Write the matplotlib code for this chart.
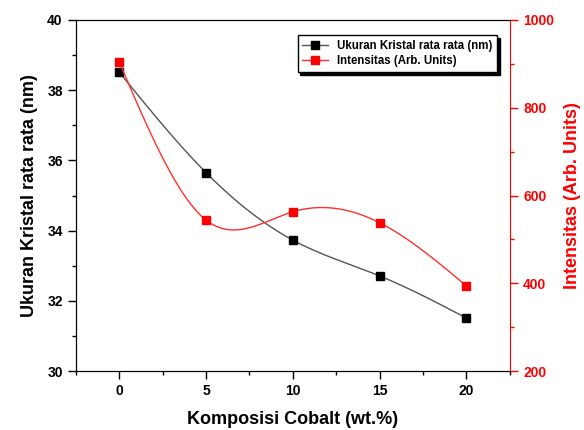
import numpy as np
import matplotlib
matplotlib.use("Agg")
import matplotlib.pyplot as plt
from matplotlib.ticker import MultipleLocator

plt.rcParams['font.family'] = ['Liberation Sans', 'DejaVu Sans']
plt.rcParams['font.weight'] = 'bold'

cobalt = [0, 5, 10, 15, 20]
ukuran = [38.51, 35.65, 33.73, 32.71, 31.51]
intensitas = [904, 544, 563, 538, 394]


def natural_spline(x, y, n=300):
    x = np.asarray(x, float)
    y = np.asarray(y, float)
    k = len(x)
    h = np.diff(x)
    A = np.zeros((k, k))
    b = np.zeros(k)
    A[0, 0] = 1
    A[-1, -1] = 1
    for i in range(1, k - 1):
        A[i, i - 1] = h[i - 1]
        A[i, i] = 2 * (h[i - 1] + h[i])
        A[i, i + 1] = h[i]
        b[i] = 6 * ((y[i + 1] - y[i]) / h[i] - (y[i] - y[i - 1]) / h[i - 1])
    M = np.linalg.solve(A, b)
    xs = np.linspace(x[0], x[-1], n)
    ys = np.empty_like(xs)
    for j, t in enumerate(xs):
        i = min(np.searchsorted(x, t, side='right') - 1, k - 2)
        a = x[i + 1] - t
        c = t - x[i]
        ys[j] = (M[i] * a ** 3 + M[i + 1] * c ** 3) / (6 * h[i]) \
            + (y[i] / h[i] - M[i] * h[i] / 6) * a \
            + (y[i + 1] / h[i] - M[i + 1] * h[i] / 6) * c
    return xs, ys


fig = plt.figure(figsize=(5.84, 4.30), dpi=100)
ax = fig.add_axes([0.130, 0.137, 0.743, 0.8165])
ax2 = ax.twinx()

xs, ys = natural_spline(cobalt, ukuran)
ax.plot(xs, ys, color='#555555', lw=1.0)
ax.plot(cobalt, ukuran, 's', color='black', ms=6, mec='black')

xs2, ys2 = natural_spline(cobalt, intensitas)
ax2.plot(xs2, ys2, color='#ff3030', lw=1.0)
ax2.plot(cobalt, intensitas, 's', color='red', ms=6, mec='red')

ax.set_xlim(-2.5, 22.5)
ax.set_ylim(30, 40)
ax2.set_ylim(200, 1000)

ax.xaxis.set_major_locator(MultipleLocator(5))
ax.xaxis.set_minor_locator(MultipleLocator(2.5))
ax.yaxis.set_major_locator(MultipleLocator(2))
ax.yaxis.set_minor_locator(MultipleLocator(1))
ax2.yaxis.set_major_locator(MultipleLocator(200))
ax2.yaxis.set_minor_locator(MultipleLocator(100))

ax.tick_params(axis='x', which='major', direction='out', length=6, width=1, labelsize=10,
               top=False)
ax.tick_params(axis='x', which='minor', direction='out', length=3, width=1, top=False)
# top ticks pointing inward
ax2.tick_params(axis='x', which='major', direction='in', length=6, width=1,
                top=True, bottom=False, labeltop=False, labelbottom=False)
ax2.tick_params(axis='x', which='minor', direction='in', length=6, width=1,
                top=True, bottom=False)
ax.tick_params(axis='y', which='major', direction='out', length=6, width=1, labelsize=10)
ax.tick_params(axis='y', which='minor', direction='out', length=3, width=1)
ax2.tick_params(axis='y', which='major', direction='out', length=6, width=1, labelsize=10,
                colors='red')
ax2.tick_params(axis='y', which='minor', direction='out', length=3, width=1, colors='red')

for lab in ax.get_xticklabels() + ax.get_yticklabels():
    lab.set_fontweight('bold')
for lab in ax2.get_yticklabels():
    lab.set_fontweight('bold')

ax2.spines['right'].set_color('red')
ax.spines['right'].set_visible(False)

ax.set_xlabel('Komposisi Cobalt (wt.%)', fontsize=13, fontweight='bold', labelpad=9)
ax.set_ylabel('Ukuran Kristal rata rata (nm)', fontsize=13, fontweight='bold', labelpad=7)
ax2.set_ylabel('Intensitas (Arb. Units)', fontsize=13, fontweight='bold', color='red', labelpad=7)

h1, = ax.plot([], [], 's-', color='#555555', mfc='black', mec='black', ms=6, lw=1.0)
h2, = ax.plot([], [], 's-', color='#ff3030', mfc='red', mec='red', ms=6, lw=1.0)
leg = ax.legend([h1, h2], ['Ukuran Kristal rata rata (nm)', 'Intensitas (Arb. Units)'],
                loc='upper right', bbox_to_anchor=(0.970, 0.957),
                prop={'weight': 'bold', 'size': 8.3}, frameon=True, fancybox=False,
                shadow={'color': 'black', 'alpha': 1}, borderpad=0.4, handlelength=2.2,
                labelspacing=0.3, borderaxespad=0)
leg.get_frame().set_edgecolor('black')
leg.get_frame().set_linewidth(1.0)

fig.savefig('out.png', dpi=100)
